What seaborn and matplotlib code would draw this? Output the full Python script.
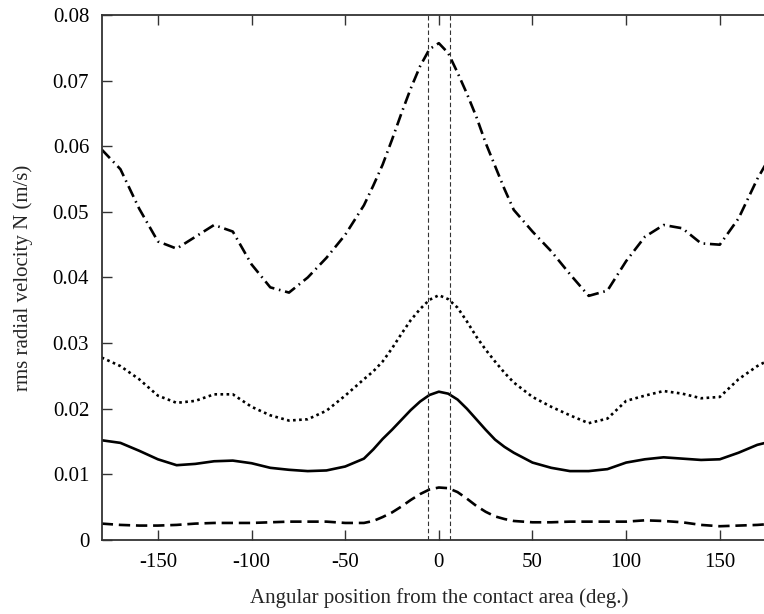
import numpy as np
import pandas as pd
import matplotlib
matplotlib.use("Agg")
import matplotlib.pyplot as plt
import seaborn as sns

# angular position (deg.), finer around the contact area
angle = [-180, -170, -160, -150, -140, -130, -120, -110, -100, -90, -80, -70, -60, -50,
         -40, -35, -30, -25, -20, -15, -10, -5, 0, 5, 10, 15, 20, 25, 30, 35, 40,
         50, 60, 70, 80, 90, 100, 110, 120, 130, 140, 150, 160, 170, 180]

# rms radial velocity N (m/s)
vel_top = [0.0595, 0.0565, 0.0505, 0.0455, 0.0444, 0.0462, 0.0480, 0.0470, 0.0420, 0.0385,
           0.0377, 0.0400, 0.0430, 0.0465, 0.0510, 0.0540, 0.0572, 0.0610, 0.0650, 0.0688,
           0.0722, 0.0748, 0.0757, 0.0742, 0.0712, 0.0680, 0.0645, 0.0605, 0.0570, 0.0535,
           0.0503, 0.0470, 0.0440, 0.0405, 0.0372, 0.0380, 0.0425, 0.0462, 0.0480, 0.0475,
           0.0452, 0.0450, 0.0490, 0.0550, 0.0600]
vel_dotted = [0.0278, 0.0265, 0.0245, 0.0220, 0.0209, 0.0212, 0.0222, 0.0222, 0.0203, 0.0190,
              0.0182, 0.0184, 0.0197, 0.0220, 0.0245, 0.0257, 0.0272, 0.0292, 0.0314, 0.0335,
              0.0352, 0.0366, 0.0373, 0.0367, 0.0354, 0.0333, 0.0310, 0.0290, 0.0272, 0.0255,
              0.0240, 0.0218, 0.0203, 0.0190, 0.0178, 0.0185, 0.0212, 0.0220, 0.0227, 0.0223,
              0.0216, 0.0218, 0.0245, 0.0265, 0.0280]
vel_solid = [0.0152, 0.0148, 0.0136, 0.0123, 0.0114, 0.0116, 0.0120, 0.0121, 0.0117, 0.0110,
             0.0107, 0.0105, 0.0106, 0.0112, 0.0124, 0.0138, 0.0154, 0.0168, 0.0183, 0.0198,
             0.0211, 0.0221, 0.0226, 0.0223, 0.0214, 0.0200, 0.0184, 0.0168, 0.0153, 0.0142,
             0.0133, 0.0118, 0.0110, 0.0105, 0.0105, 0.0108, 0.0118, 0.0123, 0.0126, 0.0124,
             0.0122, 0.0123, 0.0133, 0.0145, 0.0152]
vel_dashed = [0.0025, 0.0023, 0.0022, 0.0022, 0.0023, 0.0025, 0.0026, 0.0026, 0.0026, 0.0027,
              0.0028, 0.0028, 0.0028, 0.0026, 0.0026, 0.0029, 0.0035, 0.0042, 0.0051, 0.0061,
              0.0070, 0.0077, 0.0080, 0.0079, 0.0073, 0.0063, 0.0052, 0.0043, 0.0036, 0.0032,
              0.0029, 0.0027, 0.0027, 0.0028, 0.0028, 0.0028, 0.0028, 0.0030, 0.0029, 0.0027,
              0.0023, 0.0021, 0.0022, 0.0023, 0.0025]

# edges of the contact area
contact_edges = [-6, 6]

x_ticks = [-150, -100, -50, 0, 50, 100, 150]
y_ticks = [0, 0.01, 0.02, 0.03, 0.04, 0.05, 0.06, 0.07, 0.08]
y_labels = ["0", "0.01", "0.02", "0.03", "0.04", "0.05", "0.06", "0.07", "0.08"]

sns.set_style("ticks")
plt.rcParams["font.family"] = ["Liberation Serif", "DejaVu Serif"]

fig = plt.figure(figsize=(7.64, 6.14), dpi=100)
# axes run past the right edge like the cropped original
ax = fig.add_axes([0.1331, 0.1205, 0.8826, 0.8551])

lw = 1.9
sns.lineplot(x=angle, y=vel_top, ax=ax, color="black", lw=lw, ls=(0, (4.5, 1.8, 0.6, 1.8)))
sns.lineplot(x=angle, y=vel_dotted, ax=ax, color="black", lw=lw, ls=(0, (1, 1.3)))
sns.lineplot(x=angle, y=vel_solid, ax=ax, color="black", lw=lw, ls="-")
sns.lineplot(x=angle, y=vel_dashed, ax=ax, color="black", lw=lw, ls=(0, (4.3, 2.2)))

for xe in contact_edges:
    ax.axvline(xe, color="#333333", lw=0.8, ls=(0, (4, 2.5)))

ax.set_xlim(-180, 180)
ax.set_ylim(0, 0.08)
ax.set_xticks(x_ticks)
ax.set_xticklabels([str(t) for t in x_ticks])
ax.set_yticks(y_ticks)
ax.set_yticklabels(y_labels)

ax.tick_params(direction="in", length=7, width=1, colors="#333333",
               labelcolor="black", labelsize=15, top=True, right=True)
ax.tick_params(axis="y", pad=9)
ax.tick_params(axis="x", pad=9)
for s in ax.spines.values():
    s.set_visible(True)
    s.set_linewidth(1.3)
    s.set_color("#333333")

ax.set_xlabel("Angular position from the contact area (deg.)", fontsize=15, labelpad=12)
ax.set_ylabel("rms radial velocity N (m/s)", fontsize=15, labelpad=14)

fig.savefig("out.png", dpi=100)
